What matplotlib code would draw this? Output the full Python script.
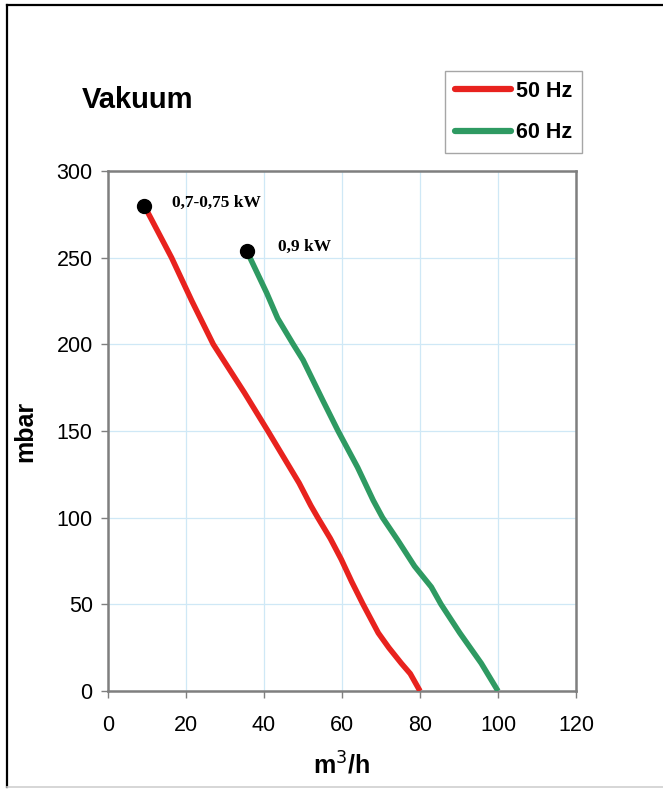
import matplotlib
matplotlib.use("Agg")
import matplotlib.pyplot as plt
from matplotlib.lines import Line2D

red_x = [9.3, 16.3, 21.5, 27, 35, 41, 45, 49, 52, 53.8, 57, 59.8, 62.5, 65.4, 69.3, 72, 75.2, 77.5, 80]
red_y = [280, 250, 225, 200, 172, 150, 135, 120, 107, 100, 88, 76, 63, 50, 33.5, 25, 16, 10, 0]
green_x = [35.7, 36.4, 40.7, 43.5, 47.5, 50, 55, 59, 64, 68, 70.4, 74.3, 78.6, 82.9, 85.4, 90.2, 95.7, 100]
green_y = [254, 250, 229.6, 215, 200, 191, 168, 150, 129, 110, 100, 87, 72, 60, 50, 33.5, 16, 0]
series_labels = ["50 Hz", "60 Hz"]
power_labels = ["0,7-0,75 kW", "0,9 kW"]

plt.rcParams['font.family'] = ['Liberation Sans', 'DejaVu Sans']

RED = '#e8221e'
GREEN = '#2e9a62'
GRID = '#cfe8f6'

fig = plt.figure(figsize=(6.63, 7.89), dpi=100)
fig.patch.set_facecolor('white')

# outer frame
fig.add_artist(Line2D([7 / 663, 7 / 663], [0.002, 1 - 5 / 789], color='black', lw=1.6))
fig.add_artist(Line2D([7 / 663, 1.0], [1 - 5 / 789, 1 - 5 / 789], color='black', lw=1.6))
fig.add_artist(Line2D([7 / 663, 1.0], [0.002, 0.002], color='#d0d0d0', lw=1.2))

ax = fig.add_axes([108 / 663, 1 - 691 / 789, 468 / 663, 520 / 789])
ax.plot(red_x, red_y, color=RED, lw=4.0, solid_capstyle='butt', zorder=3)
ax.plot(green_x, green_y, color=GREEN, lw=4.0, solid_capstyle='butt', zorder=3)
ax.plot(red_x[0], red_y[0], 'o', color='black', ms=10, zorder=4)
ax.plot(green_x[0], green_y[0], 'o', color='black', ms=10, zorder=4)

ax.text(red_x[0] + 7, red_y[0] + 1.5, power_labels[0], family='Liberation Serif',
        fontweight='bold', fontsize=12.5, va='center', ha='left')
ax.text(green_x[0] + 8, green_y[0] + 2.5, power_labels[1], family='Liberation Serif',
        fontweight='bold', fontsize=12.5, va='center', ha='left')

ax.set_xlim(0, 120)
ax.set_ylim(0, 300)
ax.set_xticks(range(0, 121, 20))
ax.set_yticks(range(0, 301, 50))
ax.grid(True, color=GRID, lw=0.9)
ax.set_axisbelow(True)
for s in ax.spines.values():
    s.set_color('#7f7f7f')
    s.set_linewidth(1.8)
ax.tick_params(axis='both', direction='out', length=5, width=1, color='#7f7f7f',
               labelsize=15.5, labelcolor='black')
ax.tick_params(axis='x', pad=12)
ax.tick_params(axis='y', pad=6)

ax.set_xlabel('m$^3$/h', fontsize=18, fontweight='bold', labelpad=12)
ax.set_ylabel('mbar', fontsize=18, fontweight='bold', labelpad=14)

fig.text(82 / 663, 1 - 100 / 789, 'Vakuum', fontsize=21, fontweight='bold',
         ha='left', va='center')

handles = [Line2D([], [], color=RED, lw=4.5, solid_capstyle='round'),
           Line2D([], [], color=GREEN, lw=4.5, solid_capstyle='round')]
leg = fig.legend(handles, series_labels, loc='upper left',
                 bbox_to_anchor=(445 / 663, 1 - 71 / 789),
                 prop={'weight': 'bold', 'size': 15.5}, frameon=True, fancybox=False,
                 handlelength=2.6, handletextpad=0.25, labelspacing=0.95,
                 borderpad=0.45, borderaxespad=0)
leg.get_frame().set_edgecolor('#909090')
leg.get_frame().set_linewidth(1.0)

fig.savefig('out.png', dpi=100)
